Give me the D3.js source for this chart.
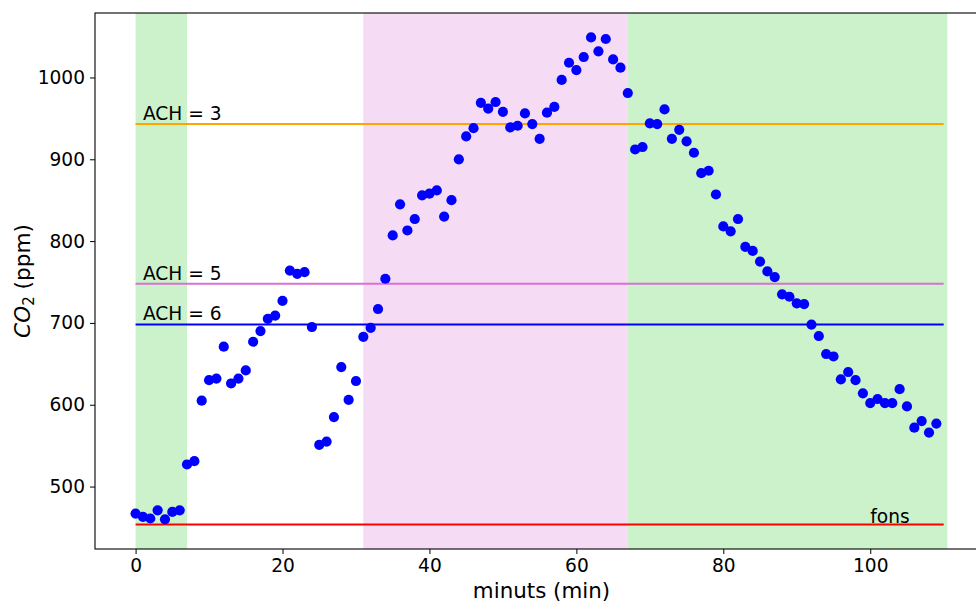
<!DOCTYPE html>
<html>
<head>
<meta charset="utf-8">
<script src="https://cdn.jsdelivr.net/npm/d3@7"></script>
<style>
  html, body { margin: 0; padding: 0; background: #fff; }
  svg { display: block; }
  text { font-family: "DejaVu Sans", sans-serif; fill: #000; }
</style>
</head>
<body>
<svg id="chart" width="976" height="602"></svg>
<script>
// ---- data ----
const minutes = d3.range(0, 110);
const co2 = [
  467, 463, 461, 471, 460, 469, 471, 527, 531, 605,
  630, 632, 671, 626, 632, 642, 677, 690, 705, 709,
  727, 764, 760, 762, 695, 551, 555, 585, 646, 606,
  629, 683, 694, 717, 754, 807, 845, 813, 827, 856,
  858, 862, 830, 850, 900, 928, 938, 969, 962, 970,
  958, 939, 941, 956, 943, 925, 957, 964, 997, 1018,
  1009, 1025, 1049, 1032, 1047, 1022, 1012, 981, 912, 915,
  944, 943, 961, 925, 936, 922, 908, 883, 886, 857,
  818, 812, 827, 793, 788, 775, 763, 756, 735, 732,
  724, 723, 698, 684, 662, 659, 631, 640, 630, 614,
  602, 607, 602, 602, 619, 598, 572, 580, 566, 577
];
const refNames = ["ACH = 3", "ACH = 5", "ACH = 6", "fons"];
const refValues = [943, 748, 698, 453.5];
const refColors = ["#FFA500", "#DA70D6", "#0000FF", "#FF0000"];
const spanStarts = [0, 31, 67];
const spanEnds = [7, 67, 110.5];
const spanColors = ["rgb(204,242,204)", "rgb(246,219,245)", "rgb(204,242,204)"];
const xTicks = [0, 20, 40, 60, 80, 100];
const yTicks = [500, 600, 700, 800, 900, 1000];
const lineStart = 0, lineEnd = 110;

// ---- layout ----
const svg = d3.select("#chart");
const mLeft = 95, mTop = 13, mBottom = 549, mRight = 988;
const x = d3.scaleLinear().domain([-5.525, 116.03]).range([mLeft, mRight]);
const y = d3.scaleLinear().domain([423.7, 1078.8]).range([mBottom, mTop]);
const fs = 18.6;

// spans
svg.append("g").selectAll("rect").data(spanStarts).join("rect")
  .attr("x", (d) => x(d))
  .attr("width", (d, i) => x(spanEnds[i]) - x(d))
  .attr("y", mTop).attr("height", mBottom - mTop)
  .attr("fill", (d, i) => spanColors[i]);

// reference lines
svg.append("g").selectAll("line").data(refValues).join("line")
  .attr("x1", x(lineStart)).attr("x2", x(lineEnd))
  .attr("y1", (d) => y(d)).attr("y2", (d) => y(d))
  .attr("stroke", (d, i) => refColors[i]).attr("stroke-width", 2);

// labels
svg.append("g").selectAll("text").data(refNames).join("text")
  .attr("x", (d, i) => i === 3 ? x(100) : x(1))
  .attr("y", (d, i) => i === 3 ? y(refValues[i] + 2) : y(refValues[i] + 5))
  .attr("font-size", fs)
  .text((d) => d);

// points
svg.append("g").selectAll("circle").data(minutes).join("circle")
  .attr("cx", (d) => x(d))
  .attr("cy", (d, i) => y(co2[i]))
  .attr("r", 5.1)
  .attr("fill", "#0000FF");

// axes
const xAxis = svg.append("g").attr("transform", `translate(0,${mBottom})`)
  .call(d3.axisBottom(x).tickValues(xTicks).tickSize(5).tickPadding(5).tickFormat(d3.format("d")));
const yAxis = svg.append("g").attr("transform", `translate(${mLeft},0)`)
  .call(d3.axisLeft(y).tickValues(yTicks).tickSize(5).tickPadding(5).tickFormat(d3.format("d")));
[xAxis, yAxis].forEach((g) => {
  g.select(".domain").remove();
  g.selectAll("text").attr("font-size", fs).attr("font-family", "DejaVu Sans").attr("fill", "#000");
  g.selectAll("line").attr("stroke", "#000").attr("stroke-width", 1);
});

// frame
svg.append("rect").attr("x", mLeft).attr("y", mTop)
  .attr("width", mRight - mLeft).attr("height", mBottom - mTop)
  .attr("fill", "none").attr("stroke", "#000").attr("stroke-width", 1.1);

// axis labels
svg.append("text").attr("x", (mLeft + mRight) / 2).attr("y", 598)
  .attr("text-anchor", "middle").attr("font-size", 21.4).text("minuts (min)");

const yl = svg.append("text")
  .attr("transform", `translate(30,${(mTop + mBottom) / 2}) rotate(-90)`)
  .attr("text-anchor", "middle").attr("font-size", 21.6);
yl.append("tspan").attr("font-style", "italic").text("CO");
yl.append("tspan").attr("font-size", 15).attr("dy", 4).text("2");
yl.append("tspan").attr("dy", -4).text(" (ppm)");
</script>
</body>
</html>
